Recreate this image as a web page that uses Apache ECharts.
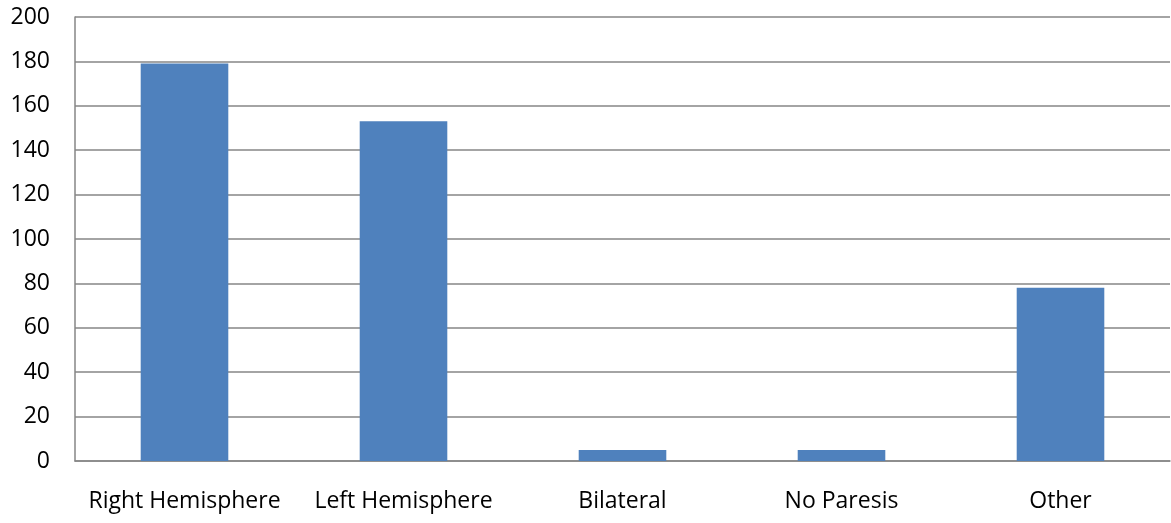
<!DOCTYPE html>
<html><head><meta charset="utf-8">
<script src="https://cdn.jsdelivr.net/npm/echarts@6/dist/echarts.min.js"></script>
<style>html,body{margin:0;padding:0;background:#fff}#c{width:1171px;height:523px}</style>
</head><body><div id="c"></div>
<script>
const categories = ['Right Hemisphere', 'Left Hemisphere', 'Bilateral', 'No Paresis', 'Other'];
const values = [179, 153, 5, 5, 78];
const yTicks = [0, 20, 40, 60, 80, 100, 120, 140, 160, 180, 200];

const chart = echarts.init(document.getElementById('c'));
chart.setOption({
  animation: false,
  grid: { left: 75, right: 1, top: 17, bottom: 62, containLabel: false },
  xAxis: {
    type: 'category', data: categories,
    axisLine: { lineStyle: { color: '#868686', width: 1.5 } },
    axisTick: { show: false },
    axisLabel: { interval: 0, hideOverlap: false, color: '#000', fontSize: 23, fontFamily: 'Open Sans', margin: 29 }
  },
  yAxis: {
    type: 'value', min: yTicks[0], max: yTicks[yTicks.length - 1], interval: 20,
    axisLine: { show: true, lineStyle: { color: '#868686', width: 1.5 } },
    axisTick: { show: false },
    splitLine: { lineStyle: { color: '#868686', width: 1.5 } },
    axisLabel: { color: '#000', fontSize: 23, fontFamily: 'Open Sans', margin: 25 }
  },
  series: [{
    type: 'bar', data: values, barWidth: '40%',
    itemStyle: { color: '#4F81BD' }
  }]
});
</script></body></html>
